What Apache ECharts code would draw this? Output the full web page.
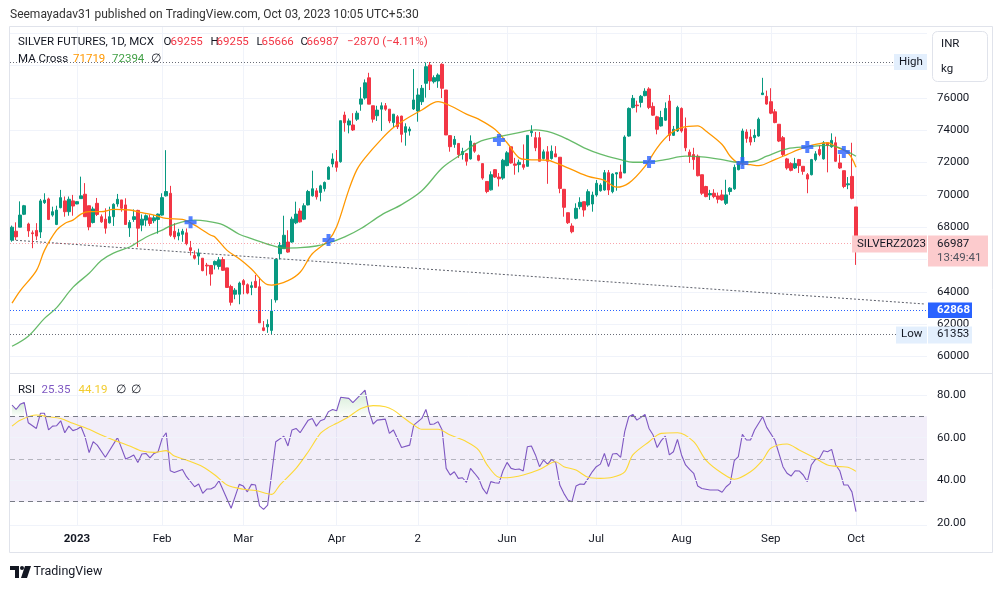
<!DOCTYPE html>
<html><head><meta charset="utf-8">
<script src="https://cdn.jsdelivr.net/npm/echarts@6.0.0/dist/echarts.min.js"></script>
<style>html,body{margin:0;padding:0;background:#fff;}#c{width:1002px;height:589px;}</style>
</head><body><div id="c"></div>
<script>
// ---------------- DATA ----------------
const holidays = ['2023-01-26','2023-05-01','2023-08-15','2023-10-02'];
const monthTickLabels = {'2023-01':'2023','2023-02':'Feb','2023-03':'Mar','2023-04':'Apr','2023-05':'2','2023-06':'Jun','2023-07':'Jul','2023-08':'Aug','2023-09':'Sep','2023-10':'Oct'};
const RIGHT_PAD = 17;
// candles: [open, close, low, high]
const candlesDec = [[67200,68000,67100,68100],[67750,67400,67200,68300],[68000,68750,68000,69600],[68800,69330,68750,69380],[68200,67770,67400,68280],[67650,67600,66700,67800],[67800,67450,67200,68250],[67700,69630,67330,69750],[69520,69680,69440,70100],[69750,68480,68440,69830],[68750,68960,68650,69270],[68170,69060,68130,69330],[69210,69830,69170,70310],[69630,68960,68650,69900],[68960,69730,68710,69900],[69630,69310,68710,70000]];
const candlesJan = [[69440,69580,69420,69600],[69770,69940,69770,71130],[70040,68650,68650,70730],[69330,68020,67810,69330],[68290,69130,68230,69270],[69480,68790,68690,69810],[68650,68330,68270,68790],[68500,67940,67600,69170],[68270,68650,68230,69270],[68650,69420,68080,69480],[69440,69730,69270,70060],[69690,69170,68960,69690],[69380,68170,68170,69790],[67960,68290,67400,68440],[68480,68650,68330,69100],[69040,67940,66770,69080],[68130,68500,67750,68790],[68440,68710,68060,68790],[68580,68230,68080,68790],[68400,68580,68250,68750],[68480,68810,67600,68850]];
const candlesFeb = [[68750,69830,68710,70100],[69940,70210,69900,72770],[70100,67500,67400,70560],[67750,67400,67250,68250],[67460,67650,67190,67900],[67560,67750,67100,67900],[67650,66980,66880,67920],[66730,66560,66250,67150],[66250,66080,66000,66560],[66210,66400,65670,66670],[66080,65310,65270,66080],[65650,65600,65000,65790],[65630,65100,64380,65630],[65670,65880,65380,65940],[65570,65980,65380,66150],[66000,65330,65290,66150],[65480,64270,64270,65480],[64330,63350,63150,64440],[63850,64100,63540,64230],[63850,64540,63230,64630]];
const candlesMar = [[64690,64440,63850,64790],[64440,63920,63850,64520],[64270,64380,63790,64630],[64650,64270,64230,65040],[64310,62080,62080,64900],[61770,61610,61560,62190],[61830,61980,61460,62290],[61610,62810,61353,63540],[63500,66000,63330,66000],[66360,66880,66000,67080],[66670,67500,66670,68710],[67080,66460,66420,67810],[67080,68500,67040,68650],[68270,68810,68190,69580],[69000,68330,68290,69170],[68500,69330,68440,69480],[69380,70210,69350,70310],[69940,70380,69900,71500],[70250,69880,69710,70420],[70150,70560,69600,70630],[70380,70770,70210,70830],[70967,71710,70940,71770],[71913,72223,71710,72574]];
const candlesApr = [[72058,71710,71437,72780],[72058,74594,71995,74594],[74947,74471,73914,75153],[74330,74580,73810,74730],[74330,74020,73960,75060],[74690,75060,74580,75210],[75620,75940,75210,76670],[76000,76940,75900,77150],[77250,75620,75620,77560],[75520,74690,74480,75520],[74900,75250,74580,75520],[75310,75520,73960,75730],[75520,75310,75210,75690],[75310,74580,74440,75310],[74480,75000,74170,75000],[74840,74220,74080,74945],[74880,73750,73250,74900],[73876,74223,73046,74433],[73957,74080,73670,74223],[75320,75880,75257,77795]];
const candlesMay = [[75195,76186,74533,76600],[75770,76600,75567,76805],[76910,77938,76020,78200],[78043,77053,76495,78229],[77010,77260,76900,77400],[77053,77424,76630,77527],[78085,76600,76000,78150],[76495,73710,73710,76495],[73670,72985,72675,73690],[73125,73437,72917,73650],[73187,72500,72292,73187],[72500,72687,72187,72917],[72562,72083,71812,72562],[72229,73333,72187,73687],[73187,72708,72604,73229],[72437,72146,72083,72500],[71937,71042,70937,71937],[70833,70208,70104,70833],[70312,71250,70271,71458],[71562,71104,71050,71600],[71104,71000,70521,71354],[71042,72146,70937,72229]];
const candlesJun = [[71812,72604,71771,72708],[72979,71979,71937,72979],[71917,71833,71250,72292],[71875,72020,71396,72187],[71875,71708,71562,73125],[71771,73687,71771,73687],[73854,73937,73604,74312],[73542,72917,72708,73896],[73542,72083,72083,73896],[72250,72667,72187,72812],[72667,72083,70687,73021],[72250,72708,72187,73062],[72541,72354,72354,73021],[72333,70400,70104,72333],[70347,69232,68650,70347],[68898,68278,68198,68898],[68074,67720,67622,68240],[68551,69170,68489,69480],[69270,69542,69108,69852],[69580,69065,68650,69580],[69375,70200,69270,70347],[69436,69994,68960,70200]];
const candlesJul = [[69994,70718,69890,70922],[70260,70613,70200,70720],[70303,71375,70260,71542],[71375,70303,69994,71542],[70200,71294,70100,71340],[71294,71375,70260,71375],[71417,71042,71042,71875],[71354,73583,71354,73687],[73646,75354,73604,75417],[75417,75979,75354,76187],[75562,75520,75104,75833],[75729,76104,75417,76187],[76146,76417,76104,76604],[76562,75417,75312,76667],[75479,74937,74896,75729],[74833,74062,73750,74896],[74271,74792,74229,75208],[74625,75354,74583,75729],[75812,73687,73333,76187],[73687,74062,73646,74271],[73958,75417,73896,75521]];
const candlesAug = [[75354,73958,73854,75417],[74104,72917,72708,74792],[72646,72396,71979,72812],[72500,72187,71562,72917],[72396,71187,71146,72500],[71250,70104,70000,71250],[70521,69896,69854,70562],[70000,70083,69687,70312],[70104,69896,69792,70354],[69937,69729,69479,70146],[70000,69687,69646,70312],[69479,70000,69375,70937],[70208,70417,70000,70479],[70375,71708,70312,71875],[71562,71937,71521,72083],[71979,73958,71812,74104],[73896,73500,73229,74062],[73583,73271,73062,74062],[73542,73687,73271,74062],[73646,74687,73604,74792],[76208,76312,76187,77250],[76104,75625,75583,76458]];
const candlesSep = [[75771,75062,75000,76604],[75146,74479,74437,75312],[74375,73333,73271,74375],[73542,72500,72396,73646],[72229,71667,71562,72292],[71937,71521,71458,72021],[71667,71937,71604,72292],[72187,71812,71354,72229],[71771,71458,71250,71771],[71250,70979,70104,71354],[71250,72187,71208,72229],[72187,72541,72083,72708],[72812,72500,72396,73062],[72229,73229,72187,73333],[73229,73062,71396,73229],[72979,73375,72917,73812],[73229,72083,72042,73604],[71979,71667,71604,72500],[71500,70521,70417,71500],[70625,70687,70354,71104],[71146,69792,69729,73229]];
const candlesOct = [[69255,66987,65666,69255]];

// moving averages: [bar index, value]
const maFast = [[0,63294],[2,64064],[6,65314],[8,66564],[11,67814],[13,68230],[15,68439],[17,68814],[19,68960],[22,68960],[25,69105],[29,69064],[32,68897],[35,68751],[38,68543],[42,68480],[45,68126],[47,67814],[49,67501],[50,67397],[53,66564],[56,66043],[59,65418],[63,64439],[64,64418],[68,64689],[71,65210],[74,66356],[78,67189],[80,68022],[83,70313],[85,71563],[87,72292],[91,73438],[94,74167],[97,74688],[101,75260],[105,75771],[108,75521],[112,75000],[115,74688],[119,74063],[122,73229],[125,72292],[127,72188],[132,72146],[134,71979],[138,71563],[142,71146],[146,70896],[149,70480],[152,70730],[156,71771],[159,72917],[162,73750],[165,74167],[169,74271],[171,73958],[175,73125],[177,72396],[179,71979],[182,71875],[184,71813],[188,72188],[191,72500],[194,72813],[198,73125],[201,73229],[203,72980],[206,72605],[208,71719]];
const maSlow = [[0,60627],[4,61252],[8,62357],[11,63023],[15,64273],[19,65148],[22,65939],[25,66397],[29,66772],[31,67085],[34,67501],[37,67814],[39,68085],[42,68335],[45,68439],[48,68376],[52,68150],[56,67564],[59,67293],[64,66876],[67,66710],[71,66731],[75,66835],[78,67022],[82,67397],[86,67918],[91,68751],[96,69400],[101,70260],[106,71667],[110,72396],[115,73271],[120,73604],[124,73813],[129,74021],[133,73855],[137,73438],[141,72917],[145,72530],[150,72188],[153,72021],[156,72021],[161,72188],[166,72396],[170,72354],[175,72188],[179,72021],[183,72084],[186,72396],[191,72855],[196,72980],[201,73063],[204,72917],[208,72394]];
const crossPoints = [[44,68300],[78,67207],[120,73400],[157,72037],[180,71975],[196,72966],[205,72656]];
const trendLine = [[0,67207],[225,63244]];
const priceLevels = {high:78229, low:61353, alert:62868, last:66987};

const rsiPts = [[0,75.3],[1,73.2],[2,75.6],[3,76.5],[4,67.0],[6,64.3],[7,71.4],[8,71.4],[9,63.6],[10,65.4],[11,65.6],[12,67.9],[13,62.3],[14,65.4],[15,63.3],[16,63.9],[17,65.1],[18,60.4],[19,53.0],[20,58.1],[21,56.5],[23,50.8],[26,60.0],[28,50.0],[29,50.8],[30,51.9],[31,48.3],[32,52.3],[33,52.6],[34,50.5],[35,52.6],[36,53.4],[37,59.7],[38,62.3],[39,44.5],[40,43.7],[42,45.1],[43,41.7],[45,37.0],[46,38.3],[47,33.9],[48,35.9],[49,35.9],[50,37.0],[51,39.8],[54,26.9],[56,38.1],[57,37.3],[58,34.6],[59,38.1],[60,37.8],[61,28.0],[62,26.4],[63,28.4],[65,58.1],[67,60.7],[68,56.1],[69,63.6],[70,64.3],[71,62.3],[73,68.2],[74,69.0],[75,65.4],[76,67.9],[77,68.6],[78,72.2],[79,73.2],[80,72.6],[81,78.9],[83,78.4],[84,76.4],[87,82.3],[88,72.2],[89,66.4],[90,68.2],[92,68.7],[93,62.0],[94,63.6],[96,55.4],[98,56.5],[99,65.9],[101,69.0],[102,73.2],[103,66.2],[104,66.4],[105,67.5],[106,63.6],[107,45.6],[108,42.5],[109,44.0],[110,40.9],[111,41.2],[112,39.0],[113,45.6],[114,43.3],[115,40.9],[116,36.2],[117,33.6],[118,39.4],[119,38.9],[120,38.6],[121,44.5],[122,48.4],[123,45.6],[124,45.1],[125,45.3],[126,44.4],[127,55.7],[128,56.1],[129,51.9],[130,46.4],[131,49.5],[132,47.6],[133,49.8],[134,48.3],[135,37.8],[136,33.9],[137,30.8],[138,30.0],[139,37.3],[140,38.3],[141,38.1],[142,40.9],[143,44.0],[144,46.4],[145,47.6],[146,52.6],[147,46.4],[148,52.3],[149,52.6],[150,50.8],[151,62.8],[152,69.8],[153,70.9],[154,68.2],[155,69.5],[156,70.9],[157,64.3],[158,61.2],[159,55.4],[160,58.6],[161,60.7],[162,51.9],[163,53.4],[164,59.2],[165,51.9],[166,47.2],[167,45.1],[168,43.3],[169,37.3],[170,36.2],[172,35.5],[174,35.5],[175,34.4],[176,37.0],[177,38.6],[178,49.2],[179,51.1],[180,61.5],[181,58.9],[182,58.9],[183,63.6],[185,69.8],[186,64.8],[188,58.9],[190,46.4],[191,43.3],[192,42.0],[193,44.5],[194,44.4],[195,42.5],[196,39.4],[197,47.2],[198,49.8],[199,50.3],[200,53.9],[201,53.4],[202,54.5],[203,47.2],[204,44.5],[205,37.8],[206,37.8],[207,34.6],[208,25.35]];
const rsiMaPts = [[0,65.4],[2,68.2],[6,70.6],[9,69.8],[12,69.0],[15,66.7],[19,63.9],[22,61.2],[25,58.9],[29,56.1],[32,53.7],[35,53.1],[38,53.9],[40,51.4],[43,49.5],[47,46.4],[50,42.5],[53,37.8],[57,35.8],[60,35.2],[64,33.4],[66,37.8],[70,45.6],[73,53.4],[76,62.0],[78,64.8],[80,66.7],[83,69.8],[86,73.7],[89,75.0],[92,74.5],[94,72.9],[96,70.1],[99,65.9],[101,63.9],[105,63.9],[108,61.2],[112,58.1],[115,54.2],[117,47.5],[120,41.4],[122,41.2],[126,42.5],[130,45.1],[134,48.7],[136,46.4],[139,44.8],[142,41.4],[145,40.9],[148,41.4],[151,44.0],[153,51.9],[157,58.1],[160,62.0],[164,62.3],[168,58.1],[171,49.5],[175,43.3],[178,40.5],[182,44.0],[185,49.5],[187,55.0],[191,57.0],[194,54.2],[198,50.3],[201,47.2],[204,46.4],[206,46.1],[208,44.19]];
const rsiOverbought1 = [[0,75.3],[1,73.2],[2,75.6],[3,76.5]];
const rsiOverbought2 = [[78,72.2],[79,73.2],[80,72.6],[81,78.9],[83,78.4],[84,76.4],[87,82.3],[88,72.2]];
const rsiLevels = {upper:70, middle:50, lower:30};
const legendVals = {maFast:'71719', maSlow:'72394', rsi:'25.35', rsiMa:'44.19'};

// ---------------- BUILD ----------------
const candles = [].concat(candlesDec,candlesJan,candlesFeb,candlesMar,candlesApr,candlesMay,candlesJun,candlesJul,candlesAug,candlesSep,candlesOct);
function fmt(d){return d.getUTCFullYear()+'-'+String(d.getUTCMonth()+1).padStart(2,'0')+'-'+String(d.getUTCDate()).padStart(2,'0');}
const dates = [];
let dd = new Date(Date.UTC(2022,11,9));
while (dates.length < candles.length + RIGHT_PAD) {
  const wd = dd.getUTCDay(), s = fmt(dd);
  if (wd !== 0 && wd !== 6 && holidays.indexOf(s) < 0) dates.push(s);
  dd = new Date(dd.getTime() + 86400000);
}
const N = dates.length;
const isMonthStart = dates.map((s,i)=> i>0 && i<candles.length && s.slice(0,7)!==dates[i-1].slice(0,7));

const FONT = 'Roboto, "Noto Sans", sans-serif';
const TXT = '#131722';
const PL = 10, PW = 917;
const band = PW / N;

const chart = echarts.init(document.getElementById('c'), null, {renderer:'canvas', width:1002, height:589});

const option = {
  animation:false,
  backgroundColor:'#ffffff',
  textStyle:{fontFamily:FONT},
  grid:[
    {left:PL, top:33.4, width:PW, height:323},
    {left:PL, top:384.3, width:PW, height:138.7},
    {left:PL+band/2, top:27, width:(N-1)*band, height:498}
  ],
  xAxis:[
    {type:'category', gridIndex:0, data:dates, boundaryGap:true, show:false},
    {type:'value', gridIndex:1, min:-0.5, max:N-0.5, show:false},
    {type:'category', gridIndex:2, data:dates, boundaryGap:false,
     axisLine:{show:false}, axisTick:{show:false},
     axisLabel:{interval:(i)=>isMonthStart[i], margin:8, color:TXT, fontSize:11.5, fontFamily:FONT,
       formatter:(v)=>{const l=monthTickLabels[v.slice(0,7)]||''; return l==='2023'?'{b|2023}':l;},
       rich:{b:{fontWeight:'bold', fontSize:11.5, color:TXT, fontFamily:FONT}}},
     splitLine:{show:true, interval:(i)=>isMonthStart[i], lineStyle:{color:'#f0f3fa', width:1}}}
  ],
  yAxis:[
    {type:'value', gridIndex:0, position:'right', min:60000, max:80000, interval:2000,
     axisLine:{show:false}, axisTick:{show:false},
     axisLabel:{margin:10, color:TXT, fontSize:11.5, fontFamily:FONT, formatter:(v)=> v>=78000 ? '' : String(v)},
     splitLine:{lineStyle:{color:'#f0f3fa', width:1}}},
    {type:'value', gridIndex:1, position:'right', min:20, max:85, interval:20,
     axisLine:{show:false}, axisTick:{show:false}, splitLine:{show:false},
     axisLabel:{margin:10, color:TXT, fontSize:11.5, fontFamily:FONT, showMaxLabel:false, formatter:(v)=> v%20===0 ? v.toFixed(2) : ''}},
    {type:'value', gridIndex:2, show:false}
  ],
  series:[
    {type:'candlestick', name:'SILVER', xAxisIndex:0, yAxisIndex:0, data:candles, barWidth:3,
     itemStyle:{color:'#089981', color0:'#f23645', borderColor:'#089981', borderColor0:'#f23645', borderWidth:1},
     markLine:{silent:true, symbol:'none', label:{show:false}, animation:false,
       data:[
         {yAxis:priceLevels.high, lineStyle:{color:'#6a6d78', type:[1,2], width:1}},
         {yAxis:priceLevels.low, lineStyle:{color:'#6a6d78', type:[1,2], width:1}},
         {yAxis:priceLevels.alert, lineStyle:{color:'#2962ff', type:[1,2], width:1}},
         {yAxis:priceLevels.last, lineStyle:{color:'rgba(242,54,69,0.45)', type:[1,2], width:1}}
       ]}},
    {type:'line', name:'trend', xAxisIndex:0, yAxisIndex:0, data:trendLine, showSymbol:false, silent:true,
     lineStyle:{color:'#5d606b', width:1, type:[2,2]}, z:1},
    {type:'line', name:'MA fast', xAxisIndex:0, yAxisIndex:0, data:maFast, showSymbol:false, smooth:0.35, silent:true,
     lineStyle:{color:'#ff9800', width:1.3}},
    {type:'line', name:'MA slow', xAxisIndex:0, yAxisIndex:0, data:maSlow, showSymbol:false, smooth:0.35, silent:true,
     lineStyle:{color:'#4caf50', width:1.3, opacity:0.85}},
    {type:'scatter', name:'cross', xAxisIndex:0, yAxisIndex:0, data:crossPoints, silent:true,
     symbol:'path://M4,0H8V4H12V8H8V12H4V8H0V4H4Z', symbolSize:12, itemStyle:{color:'#2962ff'}, z:10},
    {type:'line', name:'ob1', xAxisIndex:1, yAxisIndex:1, data:rsiOverbought1, showSymbol:false, silent:true,
     lineStyle:{width:0}, areaStyle:{origin:70, color:new echarts.graphic.LinearGradient(0,0,0,1,[{offset:0,color:'rgba(76,175,80,0.35)'},{offset:1,color:'rgba(76,175,80,0.03)'}])}, z:1},
    {type:'line', name:'ob2', xAxisIndex:1, yAxisIndex:1, data:rsiOverbought2, showSymbol:false, silent:true,
     lineStyle:{width:0}, areaStyle:{origin:70, color:new echarts.graphic.LinearGradient(0,0,0,1,[{offset:0,color:'rgba(76,175,80,0.35)'},{offset:1,color:'rgba(76,175,80,0.03)'}])}, z:1},
    {type:'line', name:'RSI', xAxisIndex:1, yAxisIndex:1, data:rsiPts, showSymbol:false, silent:true,
     lineStyle:{color:'#7e57c2', width:1.1},
     markArea:{silent:true, itemStyle:{color:'rgba(126,87,194,0.1)'}, data:[[{yAxis:rsiLevels.lower},{yAxis:rsiLevels.upper}]]},
     markLine:{silent:true, symbol:'none', label:{show:false}, animation:false,
       data:[
         {yAxis:40, lineStyle:{color:'#f0f3fa', type:'solid', width:1}},
         {yAxis:60, lineStyle:{color:'#f0f3fa', type:'solid', width:1}},
         {yAxis:80, lineStyle:{color:'#f0f3fa', type:'solid', width:1}},
         {yAxis:rsiLevels.upper, lineStyle:{color:'#787b86', type:[5,4], width:1}},
         {yAxis:rsiLevels.middle, lineStyle:{color:'rgba(120,123,134,0.5)', type:[5,4], width:1}},
         {yAxis:rsiLevels.lower, lineStyle:{color:'#787b86', type:[5,4], width:1}}
       ]}},
    {type:'line', name:'RSI MA', xAxisIndex:1, yAxisIndex:1, data:rsiMaPts, showSymbol:false, smooth:0.3, silent:true,
     lineStyle:{color:'#fdd835', width:1.1}}
  ]
};
chart.setOption(option);

// ---------------- OVERLAYS ----------------
function T(x,y,text,color,size,o){o=o||{};return {type:'text',x:x,y:y,z:o.z||130,silent:true,style:{text:text,fill:color,fontSize:size,fontFamily:FONT,fontWeight:o.weight||'normal',align:o.align||'left',verticalAlign:'middle'}};}
function R(x,y,w,h,fill,stroke,r,z){return {type:'rect',z:z||120,silent:true,shape:{x:x,y:y,width:w,height:h,r:r||0},style:{fill:fill,stroke:stroke||null,lineWidth:1}};}
function L(x1,y1,x2,y2,c,w,z){return {type:'line',z:z||115,silent:true,shape:{x1:x1,y1:y1,x2:x2,y2:y2},style:{stroke:c,lineWidth:w||1}};}
const py = (v)=>chart.convertToPixel({yAxisIndex:0}, v);
const yH = py(priceLevels.high), yLo = py(priceLevels.low), yAl = py(priceLevels.alert), yLa = py(priceLevels.last);
const last = candles[candles.length-1];
const HF = 11.5;
const g = [];
// frame
g.push(R(9.5,26.5,983,526,'none','#e0e3eb',0,116));
g.push(L(10,373.5,992,373.5,'#e0e3eb',1));
g.push(R(928,526,63,25,'#ffffff',null,0,117));
g.push(L(10,525.5,927,525.5,'#f0f3fa',1));
// top line
g.push(T(10,15,'Seemayadav31 published on TradingView.com, Oct 03, 2023 10:05 UTC+5:30','#333333',12));
// header
g.push(T(18,42,'SILVER FUTURES, 1D, MCX',TXT,HF));
g.push(T(163.5,42,'O',TXT,HF)); g.push(T(170.5,42,String(last[0]),'#f23645',HF));
g.push(T(210.5,42,'H',TXT,HF)); g.push(T(216.5,42,String(last[3]),'#f23645',HF));
g.push(T(256.5,42,'L',TXT,HF)); g.push(T(261.5,42,String(last[2]),'#f23645',HF));
g.push(T(300.5,42,'C',TXT,HF)); g.push(T(306.5,42,String(last[1]),'#f23645',HF));
g.push(T(347,42,'\u22122870 (\u22124.11%)','#f23645',HF));
g.push(T(18,59.5,'MA Cross',TXT,HF));
g.push(T(73,59.5,legendVals.maFast,'#ff9800',HF));
g.push(T(112,59.5,legendVals.maSlow,'#43a047',HF));
g.push(T(151,59.5,'\u2205',TXT,HF));
// RSI header
g.push(T(18,390,'RSI',TXT,HF));
g.push(T(41.5,390,legendVals.rsi,'#7e57c2',HF));
g.push(T(78.5,390,legendVals.rsiMa,'#f2cc2e',HF));
g.push(T(115.5,390,'\u2205',TXT,HF));
g.push(T(130.5,390,'\u2205',TXT,HF));
// INR kg box
g.push(R(932.5,31.5,55,50,'#ffffff','#e0e3eb',5));
g.push(T(941,44,'INR',TXT,11.5));
g.push(T(941,69,'kg',TXT,11.5));
// High
g.push(R(894,yH-8,33,16,'#e3effd'));
g.push(T(899,yH,'High',TXT,11.5));
// Low
g.push(R(896,yLo-8,31,17,'#e3effd'));
g.push(T(901,yLo,'Low',TXT,11.5));
g.push(R(928,yLo-8,44,17,'#e3effd'));
g.push(T(937,yLo,String(priceLevels.low),TXT,11.5));
// alert
g.push(R(928,yAl-7.5,44,15.5,'#2962ff'));
g.push(T(937,yAl,String(priceLevels.alert),'#ffffff',11.5,{weight:'bold'}));
// last price
g.push(R(852,yLa-8,75,17,'#fccbcd'));
g.push(T(857,yLa+0.5,'SILVERZ2023',TXT,11.5));
g.push(R(928,yLa-8,60,31,'#fccbcd'));
g.push(T(937,yLa+0.5,String(priceLevels.last),TXT,11.5));
g.push(T(937,yLa+14.5,'13:49:41','#50535e',11.5));
// logo
g.push({type:'polygon',z:130,silent:true,shape:{points:[[10,566],[19,566],[19,578],[15,578],[15,570],[10,570]]},style:{fill:'#131722'}});
g.push({type:'circle',z:130,silent:true,shape:{cx:22,cy:568,r:2},style:{fill:'#131722'}});
g.push({type:'polygon',z:130,silent:true,shape:{points:[[25,566],[31,566],[27,578],[21,578]]},style:{fill:'#131722'}});
g.push(T(33.5,571.5,'TradingView','#131722',12.5));
chart.setOption({graphic:[{elements:g}]});
</script></body></html>
